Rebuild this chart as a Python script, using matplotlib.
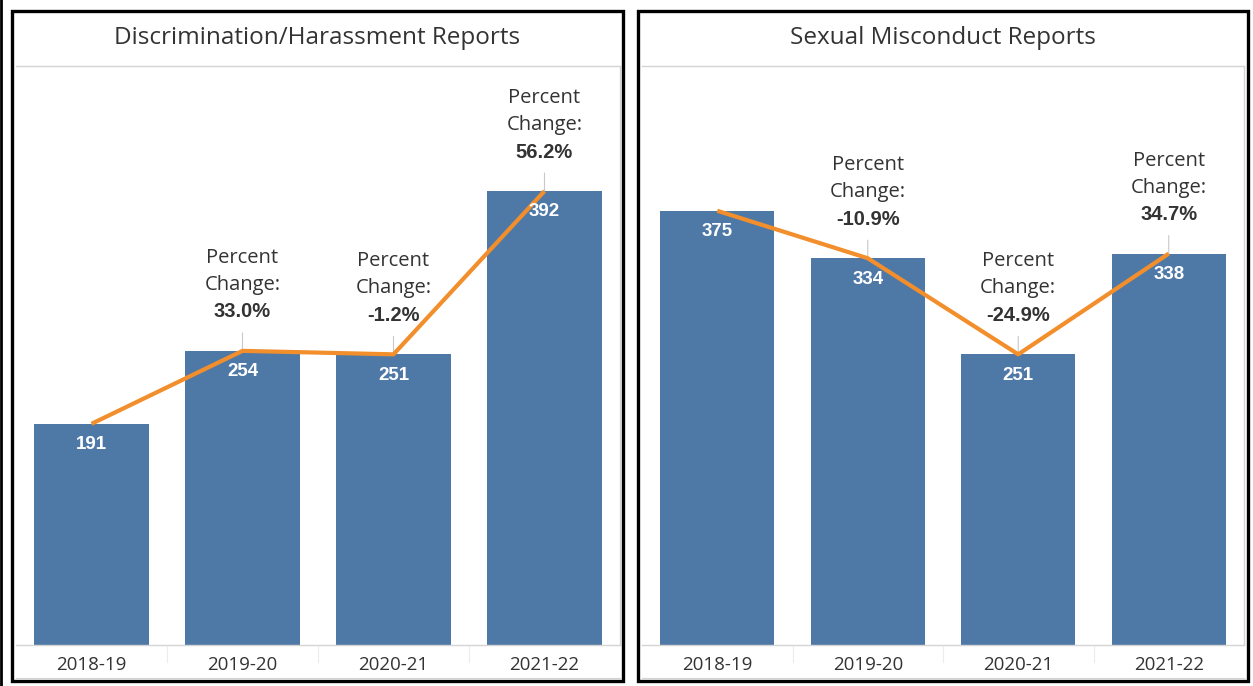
import numpy as np
import matplotlib.pyplot as plt
from matplotlib.patches import Rectangle
from matplotlib.lines import Line2D

plt.rcParams['font.family'] = ['Open Sans', 'DejaVu Sans']

years = ['2018-19', '2019-20', '2020-21', '2021-22']
titles = ['Discrimination/Harassment Reports', 'Sexual Misconduct Reports']
disc_reports = [191, 254, 251, 392]
sex_reports = [375, 334, 251, 338]
disc_change = [None, '33.0%', '-1.2%', '56.2%']
sex_change = [None, '-10.9%', '-24.9%', '34.7%']

bar_color = '#4e79a7'
line_color = '#f28e2b'
text_color = '#333333'
W, H = 1253, 686

fig = plt.figure(figsize=(W / 100, H / 100), dpi=100)


def fx(px):
    return px / W


def fy(py):
    return 1 - py / H


panels = [
    (16, 620, disc_reports, disc_change, titles[0], 12, 623),
    (642, 1244, sex_reports, sex_change, titles[1], 638, 1248),
]

for left, right, vals, changes, title, bl, br in panels:
    ax = fig.add_axes([fx(left), fy(645), fx(right - left), (645 - 66) / H])
    x = np.arange(len(years))
    ax.bar(x, vals, width=0.755, color=bar_color, zorder=2)
    ax.plot(x, vals, color=line_color, lw=3, zorder=3, solid_capstyle='butt')
    ax.set_xlim(-0.5, len(years) - 0.5)
    ax.set_ylim(0, 500)
    ax.set_yticks([])
    ax.set_xticks(x)
    ax.set_xticklabels(years, fontsize=13.5, color=text_color)
    ax.tick_params(axis='x', length=0, pad=8)
    for s in ax.spines.values():
        s.set_color('#d4d4d4')
        s.set_linewidth(1)
    ax.spines['left'].set_visible(False)

    for i, v in enumerate(vals):
        ax.annotate(str(v), (i, v), xytext=(0, -15), textcoords='offset points',
                    ha='center', va='center', color='white', fontsize=13.5,
                    fontweight='bold', family=['Liberation Sans', 'DejaVu Sans'],
                    zorder=4)
        if changes[i] is None:
            continue
        ax.annotate('', (i, v), xytext=(0, 13), textcoords='offset points',
                    arrowprops=dict(arrowstyle='-', color='#c8c8c8', lw=0.8,
                                    shrinkA=0, shrinkB=0), zorder=1)
        ax.annotate(changes[i], (i, v), xytext=(0, 28), textcoords='offset points',
                    ha='center', va='center', color=text_color, fontsize=14.5,
                    fontweight='bold', family=['Liberation Sans', 'DejaVu Sans'])
        ax.annotate('Change:', (i, v), xytext=(0, 47.5), textcoords='offset points',
                    ha='center', va='center', color=text_color, fontsize=14.5)
        ax.annotate('Percent', (i, v), xytext=(0, 67), textcoords='offset points',
                    ha='center', va='center', color=text_color, fontsize=14.5)

    # faint separators between category labels
    for k in range(1, len(years)):
        xs = left + (right - left) * k / len(years)
        fig.add_artist(Line2D([fx(xs), fx(xs)], [fy(646), fy(662)],
                              color='#ececec', lw=0.8))
    # bottom frame line
    fig.add_artist(Line2D([fx(left), fx(right)], [fy(678), fy(678)],
                          color='#d4d4d4', lw=0.8))

    fig.text(fx((bl + br) / 2), fy(38), title, ha='center', va='center',
             fontsize=17.5, color=text_color)
    fig.add_artist(Rectangle((fx(bl), fy(681)), fx(br - bl), (681 - 11) / H,
                             fill=False, ec='black', lw=2.4))

fig.add_artist(Line2D([fx(1), fx(1)], [0, 1], color='black', lw=2))

plt.savefig('out.png', dpi=100)
